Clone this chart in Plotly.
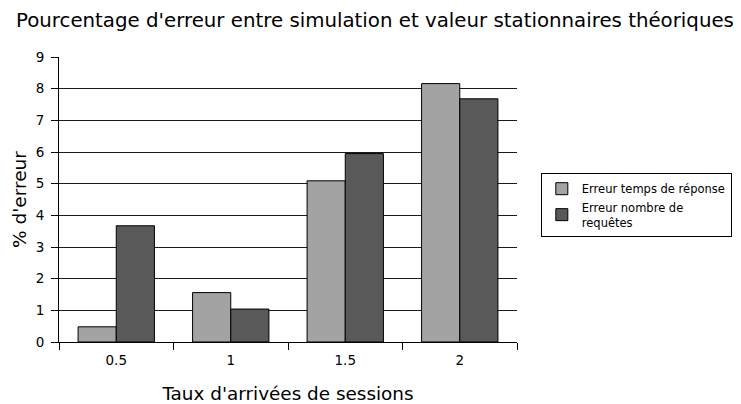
import plotly.graph_objects as go

categories = ["0.5", "1", "1.5", "2"]
erreur_temps_reponse = [0.48, 1.56, 5.09, 8.16]
erreur_nombre_requetes = [3.67, 1.04, 5.95, 7.68]

font_family = "DejaVu Sans"

fig = go.Figure()
fig.add_trace(go.Bar(
    x=categories, y=erreur_temps_reponse, name="Erreur temps de réponse",
    marker=dict(color="#a3a3a3", line=dict(color="#000000", width=1)),
))
fig.add_trace(go.Bar(
    x=categories, y=erreur_nombre_requetes, name="Erreur nombre de<br>requêtes",
    marker=dict(color="#595959", line=dict(color="#000000", width=1)),
))

fig.update_layout(
    width=741, height=404,
    margin=dict(l=59, r=224, t=57, b=62, autoexpand=False),
    paper_bgcolor="white", plot_bgcolor="white",
    font=dict(family=font_family, color="#000000"),
    barmode="group", bargap=1/3, bargroupgap=0,
    title=dict(text="Pourcentage d'erreur entre simulation et valeur stationnaires théoriques",
               x=0.506, xanchor="center", y=0.95, yanchor="middle",
               font=dict(size=19.8)),
    legend=dict(x=1.052, xanchor="left", y=0.48, yanchor="middle",
                bordercolor="#000000", borderwidth=1, font=dict(size=11.5),
                tracegroupgap=0, itemwidth=30),
    xaxis=dict(
        type="category", showline=True, linecolor="#000000", linewidth=1,
        ticks="outside", tickson="boundaries", ticklen=7, tickcolor="#000000",
        tickfont=dict(size=13.5), showgrid=False, ticklabelstandoff=6,
        title=dict(text="Taux d'arrivées de sessions", font=dict(size=18.4), standoff=19),
    ),
    yaxis=dict(
        range=[0, 9], dtick=1, showline=True, linecolor="#000000", linewidth=1,
        ticks="outside", ticklen=7, tickcolor="#000000", tickfont=dict(size=13.5),
        showgrid=True, gridcolor="#1a1a1a", gridwidth=1, zeroline=False,
        ticklabelstandoff=4,
        title=dict(text="% d'erreur", font=dict(size=18.5), standoff=4),
    ),
)

fig.write_html("out.html")
